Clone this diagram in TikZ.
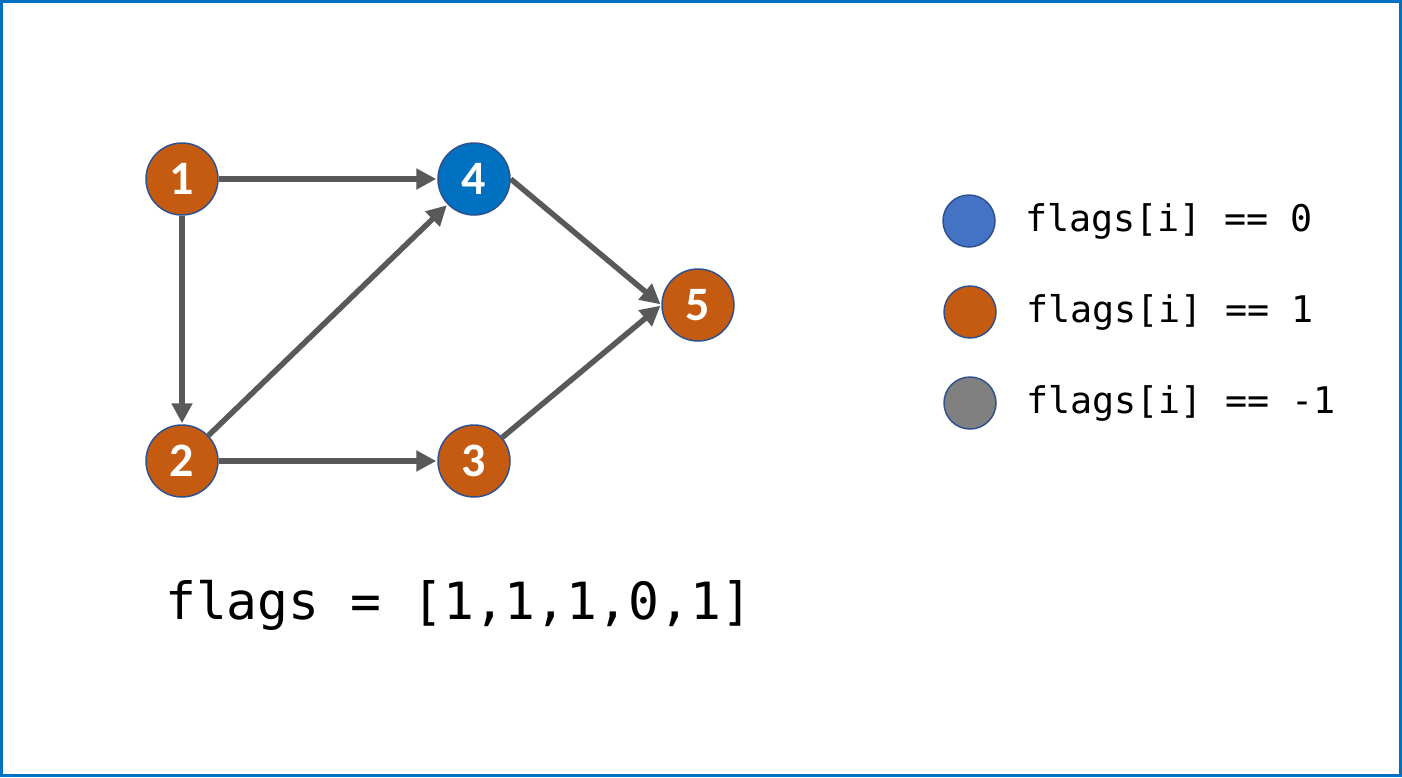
\documentclass[tikz,border=0pt]{standalone}
\usepackage{fontspec}
\setmainfont{Carlito}
\newfontfamily\monofont{DejaVu Sans Mono}
\usetikzlibrary{arrows.meta}
\definecolor{orng}{HTML}{C55A11}
\definecolor{bluenode}{HTML}{0070C0}
\definecolor{legblue}{HTML}{4472C4}
\definecolor{leggray}{HTML}{808080}
\definecolor{rimblue}{HTML}{2F528F}
\definecolor{edgegray}{HTML}{595959}
\definecolor{frameblue}{HTML}{0070C0}
\tikzset{
  vert/.style={circle, draw=rimblue, line width=1.5pt, minimum size=72pt, inner sep=0pt,
    text=white, font=\fontsize{48}{54}\selectfont\bfseries},
  legdot/.style={circle, draw=rimblue, line width=1.5pt, minimum size=52pt, inner sep=0pt},
  edge/.style={draw=edgegray, line width=5.5pt, -{Triangle[length=20pt,width=20pt]}, shorten >=1pt},
  legtext/.style={anchor=west, inner sep=0pt, font=\monofont\fontsize{36.7}{44}\selectfont},
}
\begin{document}
\begin{tikzpicture}[x=1pt,y=-1pt]
\useasboundingbox (0,0) rectangle (1402,777);
\draw[frameblue, line width=3pt] (1.5,1.5) rectangle (1400.5,775.5);
\node[vert, fill=orng] (n1) at (182,179) {1};
\node[vert, fill=bluenode] (n4) at (474,179) {4};
\node[vert, fill=orng] (n2) at (182,461) {2};
\node[vert, fill=orng] (n3) at (474,461) {3};
\node[vert, fill=orng] (n5) at (698,305) {5};
\draw[edge] (n1) -- (n4);
\draw[edge] (n1) -- (n2);
\draw[edge] (n2) -- (n4);
\draw[edge] (n2) -- (n3);
\draw[edge] (n4.east) -- (n5.west);
\draw[edge] (n3) -- (n5.west);
\node[legdot, fill=legblue] (l0) at (969,221) {};
\node[legdot, fill=orng] (l1) at (970,312) {};
\node[legdot, fill=leggray] (l2) at (970,403) {};
\node[legtext] (t0) at (1025,221) {flags[i] == 0};
\node[legtext] (t1) at (1026,312) {flags[i] == 1};
\node[legtext] (t2) at (1026,403) {flags[i] == -1};
\node[anchor=west, inner sep=0pt, font=\monofont\fontsize{51.3}{60}\selectfont] (arr) at (165,605) {flags = [1,1,1,0,1]};
\end{tikzpicture}
\end{document}
